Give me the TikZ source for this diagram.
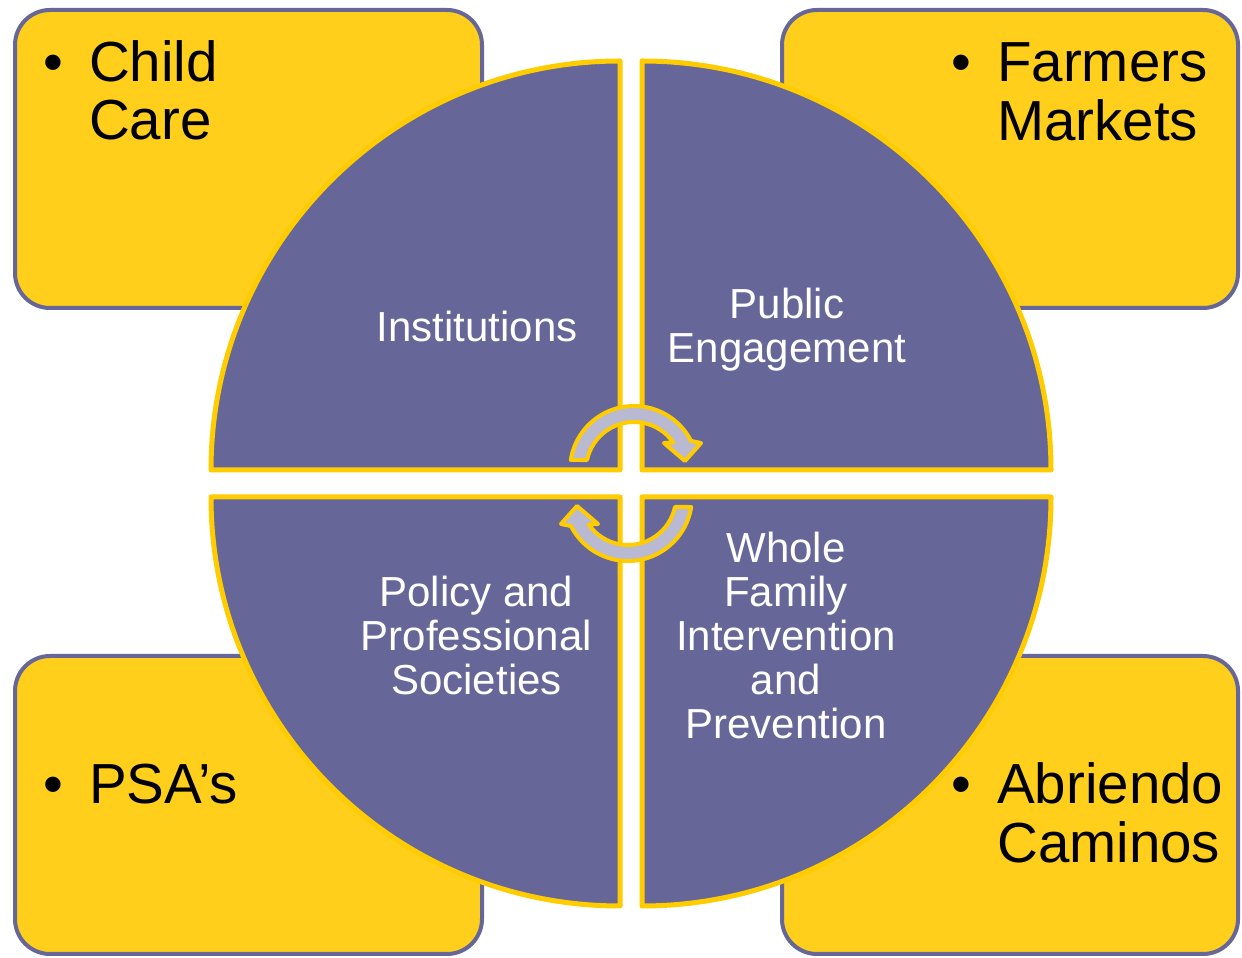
\documentclass[tikz,border=0pt]{standalone}
\usepackage{fontspec}
\setmainfont{Liberation Sans}
\usetikzlibrary{positioning}
\definecolor{gold}{RGB}{255,207,28}
\definecolor{rim}{RGB}{255,204,0}
\definecolor{slate}{RGB}{102,102,153}
\definecolor{lilac}{RGB}{185,185,210}

% bullet followed by a stack of lines
\newcommand{\bulletlines}[1]{\makebox[46pt][l]{\textbullet}\begin{tabular}[t]{@{}l@{}}#1\end{tabular}}

\begin{document}
\begin{tikzpicture}[
    x=1pt, y=1pt,
    box/.style={
      rectangle,
      rounded corners=35pt,
      draw=slate,
      line width=4pt,
      fill=gold,
      minimum height=298pt
    },
    item/.style={
      inner sep=0pt,
      anchor=base west,
      font=\fontsize{56.5}{58}\selectfont
    },
    quad/.style={fill=slate, draw=rim, line width=5pt, line join=round},
    qtext/.style={
      inner sep=0pt,
      anchor=base,
      align=center,
      text=white,
      font=\fontsize{42}{44}\selectfont
    },
    cyc/.style={fill=lilac, draw=rim, line width=4pt, line join=round}
  ]
    \path[use as bounding box, fill=white] (0,0) rectangle (1242,958);

    % outer boxes
    \node[box, minimum width=467pt] (childcare) at (248.5,799) {};
    \node[box, minimum width=456pt] (farmers) at (1010,799) {};
    \node[box, minimum width=467pt] (psa) at (248.5,153) {};
    \node[box, minimum width=456pt] (abriendo) at (1010,153) {};

    \node[item] (childcare-txt) at (43,876) {\bulletlines{Child\\Care}};
    \node[item] (farmers-txt) at (951,876) {\bulletlines{Farmers\\Markets}};
    \node[item] (psa-txt) at (43,154) {\bulletlines{PSA’s}};
    \node[item] (abriendo-txt) at (951,154) {\bulletlines{Abriendo\\Caminos}};

    % the four quarters of the disc
    \filldraw[quad] (620,488) -- ++(-409,0) arc[start angle=180, end angle=90, radius=409] -- cycle;
    \filldraw[quad] (642,488) -- ++(0,409) arc[start angle=90, end angle=0, radius=409] -- cycle;
    \filldraw[quad] (642,461) -- ++(409,0) arc[start angle=0, end angle=-90, radius=409] -- cycle;
    \filldraw[quad] (620,461) -- ++(0,-409) arc[start angle=-90, end angle=-180, radius=409] -- cycle;

    % base anchor sits on the last line
    \node[qtext] (inst) at (477,616) {Institutions};
    \node[qtext] (pub) at (787,595) {Public\\Engagement};
    \node[qtext] (policy) at (476.5,263) {Policy and\\Professional\\Societies};
    \node[qtext] (family) at (786,219) {Whole\\Family\\Intervention\\and\\Prevention};

    % turning arrows in the middle
    \foreach \turn in {0,180}
      \filldraw[cyc, rotate around={\turn:(631,474.5)}, shift={(634,488)}]
        (171:64) arc[start angle=171, end angle=27, radius=64]
        -- (67,27) -- (51,9) -- (30,27)
        -- (35:48) arc[start angle=35, end angle=168, radius=48] -- cycle;
  \end{tikzpicture}
\end{document}
